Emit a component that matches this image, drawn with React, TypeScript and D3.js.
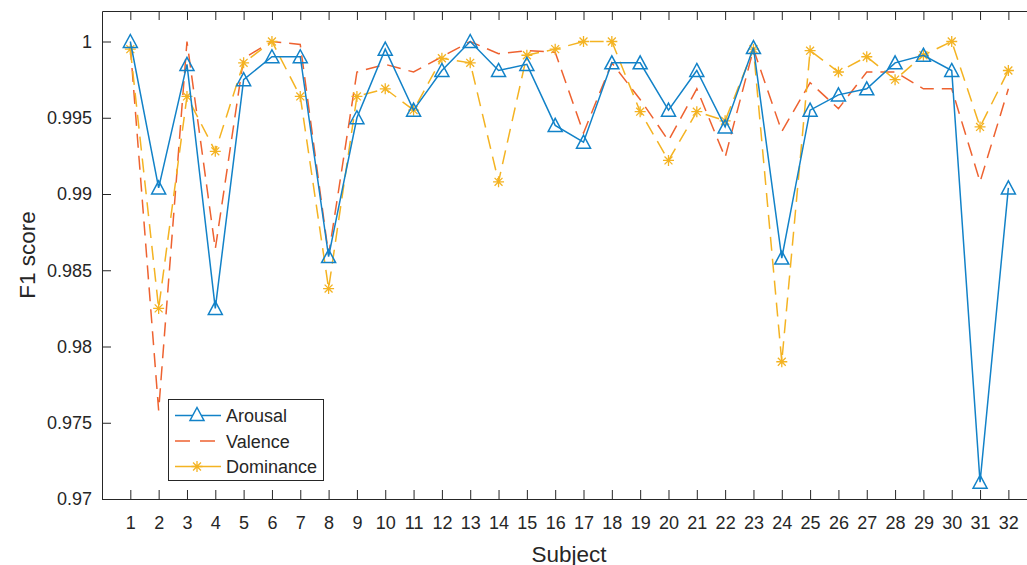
import React, { useEffect, useRef } from "react";
import * as d3 from "d3";

// subjects 1..32 and F1 scores
const subjects = d3.range(1, 33);

const arousal = [
  1.0, 0.9904, 0.9985, 0.9825, 0.9975, 0.999, 0.999, 0.9859, 0.995, 0.9995,
  0.9955, 0.9981, 1.0, 0.9981, 0.9985, 0.9945, 0.9934, 0.9986, 0.9986, 0.9955,
  0.9981, 0.9944, 0.9996, 0.9858, 0.9955, 0.9965, 0.9969, 0.9986, 0.9991, 0.9981,
  0.9711, 0.9904
];

const valence = [
  0.9997, 0.9758, 1.0, 0.9864, 0.9989, 1.0, 0.9998, 0.986, 0.998, 0.9985,
  0.998, 0.999, 1.0, 0.9992, 0.9994, 0.9993, 0.994, 0.9986, 0.9962, 0.9935,
  0.9969, 0.9924, 0.9995, 0.9941, 0.9973, 0.9956, 0.998, 0.998, 0.9969, 0.9969,
  0.9908, 0.9969
];

const dominance = [
  0.9995, 0.9825, 0.9964, 0.9928, 0.9986, 1.0, 0.9964, 0.9838, 0.9964, 0.9969,
  0.9955, 0.9989, 0.9986, 0.9908, 0.9991, 0.9995, 1.0, 1.0, 0.9954, 0.9922,
  0.9954, 0.9948, 0.9995, 0.979, 0.9994, 0.998, 0.999, 0.9975, 0.9991, 1.0,
  0.9944, 0.9981
];

const yTicks = [0.97, 0.975, 0.98, 0.985, 0.99, 0.995, 1];

const seriesNames = ["Arousal", "Valence", "Dominance"];
const seriesColors = ["#1282C8", "#EE6230", "#F4B322"];

const AXIS_COLOR = "#262626";
const FONT = "'Liberation Sans', Arial, Helvetica, sans-serif";

export default function App() {
  const ref = useRef<SVGSVGElement | null>(null);

  useEffect(() => {
    const svg = d3.select(ref.current);
    svg.selectAll("*").remove();

    const left = 102;
    const top = 11;
    const bottom = 499;
    const right = 1036.7; // axes box runs past the window edge

    const x = d3.scaleLinear().domain([0, 33]).range([left, right]);
    const y = d3.scaleLinear().domain([0.97, 1.002]).range([bottom, top]);

    svg.append("rect")
      .attr("x", left).attr("y", top)
      .attr("width", right - left).attr("height", bottom - top)
      .attr("fill", "#fff");

    const styleAxis = (g: any) => {
      g.selectAll("path, line").attr("stroke", AXIS_COLOR).attr("stroke-width", 1);
      g.selectAll("text")
        .attr("fill", AXIS_COLOR)
        .attr("font-family", FONT)
        .attr("font-size", 18);
    };

    // bottom axis with labels, ticks pointing inward
    svg.append("g")
      .attr("transform", `translate(0,${bottom})`)
      .call(d3.axisBottom(x).tickValues(subjects).tickSize(-9).tickSizeOuter(0).tickPadding(17.5).tickFormat(d3.format("d")))
      .call(styleAxis);

    // top axis, ticks only
    svg.append("g")
      .attr("transform", `translate(0,${top})`)
      .call(d3.axisTop(x).tickValues(subjects).tickSize(-9).tickSizeOuter(0).tickFormat(() => ""))
      .call(styleAxis);

    // left axis
    svg.append("g")
      .attr("transform", `translate(${left},0)`)
      .call(d3.axisLeft(y).tickValues(yTicks).tickSize(-9).tickSizeOuter(0).tickPadding(10).tickFormat(d3.format("")))
      .call(styleAxis);

    // right axis, ticks only
    svg.append("g")
      .attr("transform", `translate(${right},0)`)
      .call(d3.axisRight(y).tickValues(yTicks).tickSize(-9).tickSizeOuter(0).tickFormat(() => ""))
      .call(styleAxis);

    // axis titles
    svg.append("text")
      .attr("x", 569)
      .attr("y", 561.5)
      .attr("text-anchor", "middle")
      .attr("font-family", FONT)
      .attr("font-size", 22.5)
      .attr("fill", AXIS_COLOR)
      .text("Subject");

    svg.append("text")
      .attr("transform", `translate(35,${(top + bottom) / 2}) rotate(-90)`)
      .attr("text-anchor", "middle")
      .attr("font-family", FONT)
      .attr("font-size", 22.5)
      .attr("fill", AXIS_COLOR)
      .text("F1 score");

    const line = d3.line<number>()
      .x((_, i) => x(subjects[i]))
      .y(d => y(d));

    const plot = svg.append("g");

    const triangle = "M0,-7L7,6L-7,6Z";
    const drawAsterisk = (g: any, cx: number, cy: number, color: string) => {
      const r = 5.5;
      const k = r * 0.72;
      g.append("path")
        .attr("d", `M${cx - r},${cy}L${cx + r},${cy}M${cx},${cy - r}L${cx},${cy + r}M${cx - k},${cy - k}L${cx + k},${cy + k}M${cx - k},${cy + k}L${cx + k},${cy - k}`)
        .attr("stroke", color)
        .attr("stroke-width", 1.3)
        .attr("fill", "none");
    };

    // valence (dashed, no markers)
    plot.append("path")
      .datum(valence)
      .attr("d", line)
      .attr("fill", "none")
      .attr("stroke", seriesColors[1])
      .attr("stroke-width", 1.5)
      .attr("stroke-dasharray", "14,8");

    // dominance (dashed with asterisks)
    plot.append("path")
      .datum(dominance)
      .attr("d", line)
      .attr("fill", "none")
      .attr("stroke", seriesColors[2])
      .attr("stroke-width", 1.5)
      .attr("stroke-dasharray", "14,8");
    dominance.forEach((d, i) => drawAsterisk(plot, x(subjects[i]), y(d), seriesColors[2]));

    // arousal (solid with triangles)
    plot.append("path")
      .datum(arousal)
      .attr("d", line)
      .attr("fill", "none")
      .attr("stroke", seriesColors[0])
      .attr("stroke-width", 1.5);
    plot.selectAll(".tri")
      .data(arousal)
      .enter()
      .append("path")
      .attr("class", "tri")
      .attr("d", triangle)
      .attr("transform", (d, i) => `translate(${x(subjects[i])},${y(d)})`)
      .attr("fill", "none")
      .attr("stroke", seriesColors[0])
      .attr("stroke-width", 1.5);

    // legend
    const lg = svg.append("g");
    lg.append("rect")
      .attr("x", 168.5).attr("y", 399.5)
      .attr("width", 155).attr("height", 81)
      .attr("fill", "#fff")
      .attr("stroke", AXIS_COLOR)
      .attr("stroke-width", 1);

    const rowY = [415.5, 441, 466.5];
    seriesNames.forEach((name, i) => {
      const ry = rowY[i];
      const l = lg.append("line")
        .attr("x1", 175).attr("x2", 221)
        .attr("y1", ry).attr("y2", ry)
        .attr("stroke", seriesColors[i])
        .attr("stroke-width", 1.5);
      if (i === 1) l.attr("stroke-dasharray", "15,10");
      if (i === 0) {
        lg.append("path")
          .attr("d", triangle)
          .attr("transform", `translate(197,${ry - 1})`)
          .attr("fill", "#fff")
          .attr("stroke", seriesColors[0])
          .attr("stroke-width", 1.5);
      }
      if (i === 2) drawAsterisk(lg, 197, ry, seriesColors[2]);
      lg.append("text")
        .attr("x", 226)
        .attr("y", ry + 6.5)
        .attr("font-family", FONT)
        .attr("font-size", 18)
        .attr("fill", AXIS_COLOR)
        .text(name);
    });
  }, []);

  return (
    <svg
      ref={ref}
      width={1027}
      height={565}
      style={{ position: "absolute", left: 0, top: 0, background: "#fff" }}
    />
  );
}
